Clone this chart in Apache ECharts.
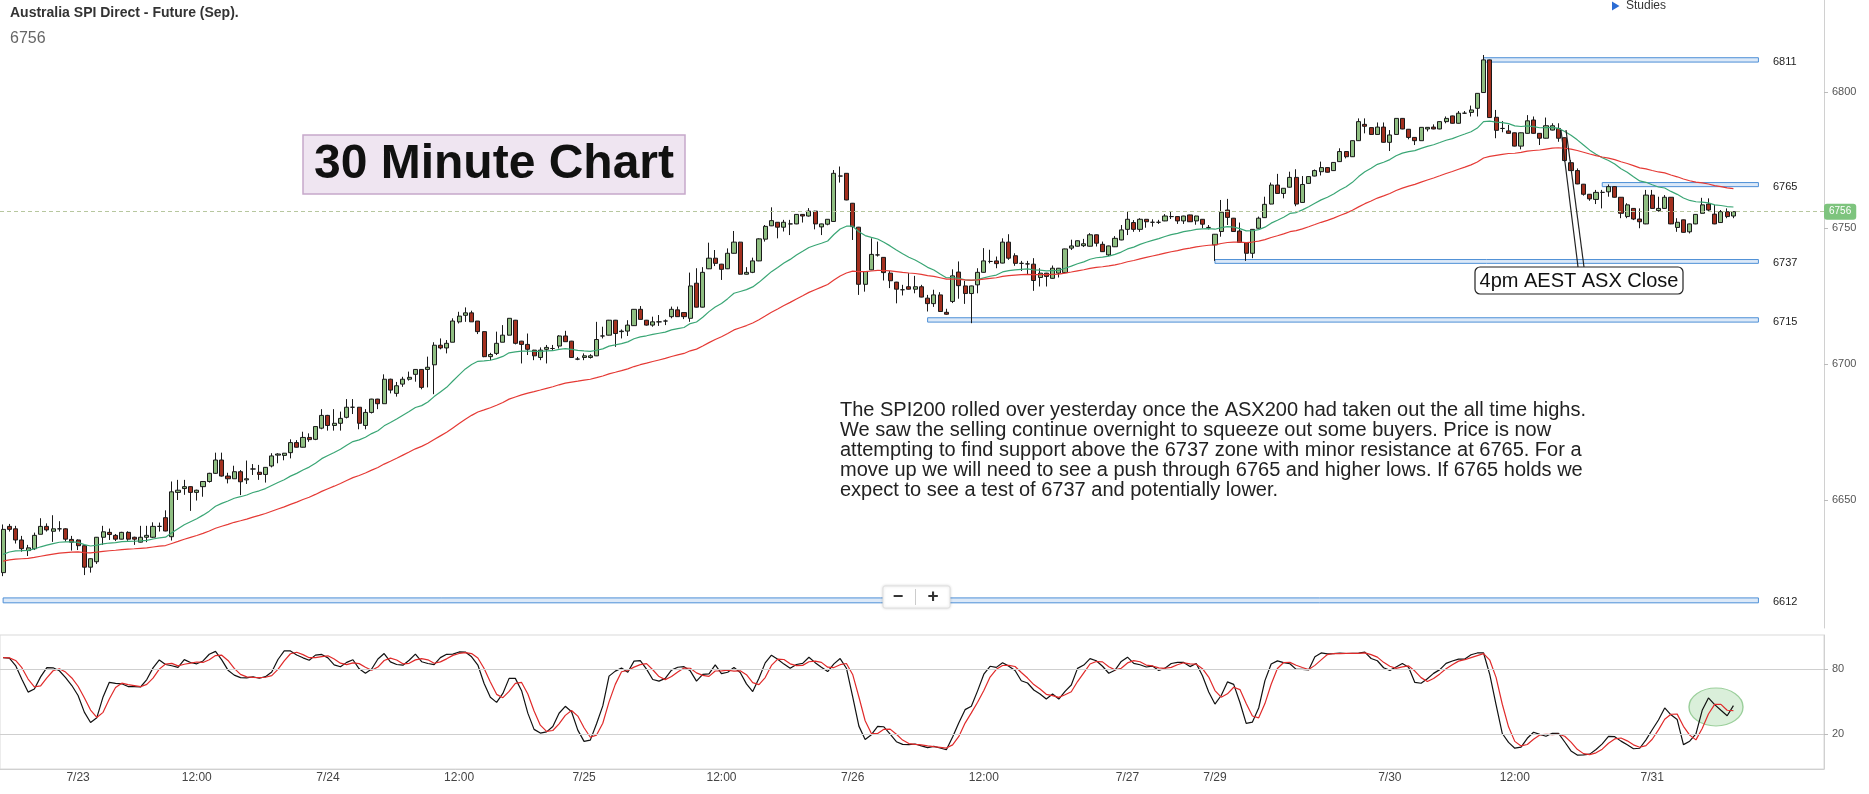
<!DOCTYPE html>
<html><head><meta charset="utf-8">
<script src="https://cdn.jsdelivr.net/npm/echarts@6/dist/echarts.min.js"></script>
<style>html,body{margin:0;padding:0;background:#fff}#c{width:1869px;height:794px}</style>
</head><body><div id="c"></div>
<script>
const openP = [
6623.3,6640.3,6639.4,6635.3,6631.4,6632.1,6637.4,6640.3,6638.5,6639.4,
6639.4,6635.5,6635.3,6633.2,6625.3,6627.3,6636.3,6638.1,6637.0,6635.6,
6638.1,6636.3,6634.5,6636.3,6636.3,6640.3,6643.5,6636.5,6652.8,6654.2,
6654.9,6652.8,6654.9,6656.8,6659.8,6664.7,6658.8,6657.8,6660.4,6657.4,
6661.4,6660.2,6659.4,6662.5,6666.5,6666.4,6667.4,6671.1,6669.4,6673.0,
6672.3,6676.4,6681.1,6677.4,6678.2,6680.4,6684.1,6684.1,6677.4,6682.2,
6687.1,6685.4,6694.4,6689.2,6692.6,6694.4,6696.2,6698.0,6698.0,6699.7,
6706.9,6705.9,6708.0,6715.5,6717.9,6718.8,6715.8,6711.9,6702.7,6703.9,
6708.0,6710.6,6716.1,6708.4,6707.2,6705.1,6702.4,6705.4,6705.7,6706.6,
6710.3,6708.4,6701.8,6702.4,6702.4,6703.0,6710.3,6710.6,6716.1,6711.9,
6712.1,6714.1,6720.1,6716.1,6714.3,6715.5,6715.8,6717.4,6719.9,6718.9,
6716.8,6729.7,6720.9,6735.0,6738.9,6736.7,6735.0,6740.7,6744.8,6733.0,
6733.7,6737.9,6745.9,6750.8,6752.1,6750.3,6751.5,6751.5,6755.0,6754.4,
6756.2,6750.4,6751.4,6752.4,6769.1,6770.1,6759.1,6750.3,6729.3,6734.6,
6740.1,6739.2,6733.4,6730.1,6727.3,6728.4,6727.5,6728.4,6724.2,6722.2,
6725.4,6719.0,6723.0,6733.8,6728.7,6725.9,6729.1,6733.7,6737.7,6737.9,
6737.1,6744.8,6739.8,6737.0,6736.8,6736.7,6731.8,6733.4,6731.5,6733.4,
6733.6,6742.6,6743.3,6743.5,6743.3,6747.5,6744.0,6740.1,6743.1,6745.6,
6749.5,6752.0,6749.5,6753.2,6752.1,6752.1,6752.6,6754.2,6754.2,6752.6,
6754.8,6752.6,6753.2,6750.2,6743.8,6748.7,6756.6,6753.6,6748.9,6744.6,
6740.7,6749.9,6753.8,6758.8,6765.8,6762.7,6765.0,6768.6,6759.4,6766.4,
6769.1,6770.7,6772.2,6771.1,6774.4,6778.1,6776.2,6782.1,6788.1,6786.9,
6784.4,6787.1,6781.5,6784.4,6790.3,6786.3,6783.3,6782.1,6786.4,6787.1,
6786.4,6789.1,6791.2,6788.5,6792.2,6792.5,6794.0,6799.8,6811.8,6790.7,
6786.6,6785.7,6785.0,6780.1,6784.8,6789.7,6784.8,6783.0,6786.0,6786.6,
6783.2,6774.0,6771.1,6766.1,6762.4,6760.5,6763.1,6763.3,6765.2,6761.3,
6754.2,6757.2,6753.3,6751.5,6762.1,6756.4,6757.2,6761.3,6750.2,6753.0,
6748.6,6751.5,6755.4,6758.8,6755.1,6752.0,6756.0,6754.4];
const closeP = [
6639.2,6639.2,6635.3,6632.1,6632.4,6637.0,6640.3,6639.0,6639.4,6639.4,
6635.6,6634.5,6633.2,6625.3,6628.4,6636.3,6638.3,6637.3,6635.6,6638.1,
6635.6,6635.6,6636.3,6637.0,6640.3,6640.3,6638.6,6653.0,6653.6,6654.9,
6652.8,6653.6,6656.8,6659.8,6664.7,6658.8,6657.8,6660.4,6656.7,6657.8,
6661.4,6659.4,6662.0,6666.2,6666.9,6667.2,6671.1,6669.4,6673.0,6672.2,
6677.0,6681.1,6677.4,6678.2,6680.0,6684.1,6684.1,6678.2,6682.2,6687.1,
6685.4,6694.4,6690.4,6692.0,6694.4,6695.1,6698.0,6691.4,6698.8,6706.9,
6705.9,6707.6,6715.8,6717.6,6718.8,6715.5,6711.9,6702.7,6703.5,6707.6,
6710.6,6716.8,6707.6,6707.2,6705.4,6703.0,6705.1,6706.1,6705.7,6710.3,
6708.2,6702.4,6701.8,6703.0,6703.0,6709.0,6710.3,6716.1,6711.2,6712.1,
6714.3,6720.1,6716.4,6714.3,6715.5,6715.5,6715.8,6720.1,6717.4,6717.4,
6728.7,6720.9,6733.7,6738.9,6737.0,6734.8,6740.7,6744.8,6733.0,6733.7,
6737.9,6746.0,6750.6,6752.7,6750.3,6752.1,6751.5,6755.0,6754.4,6756.2,
6751.5,6751.5,6753.2,6770.1,6769.1,6760.3,6750.5,6729.3,6734.0,6740.3,
6740.1,6733.6,6730.6,6727.5,6727.3,6727.5,6728.4,6724.6,6722.2,6725.4,
6719.3,6718.3,6732.4,6728.8,6725.9,6728.7,6733.7,6737.9,6737.7,6736.9,
6744.8,6738.9,6737.0,6737.0,6736.8,6730.7,6733.4,6732.2,6735.2,6735.2,
6742.3,6743.4,6745.3,6744.2,6747.5,6744.4,6741.3,6743.4,6746.2,6749.3,
6753.2,6749.5,6753.2,6752.3,6752.1,6752.1,6754.4,6754.2,6752.6,6754.4,
6752.3,6754.4,6751.4,6750.2,6747.7,6755.8,6753.9,6748.7,6744.7,6740.7,
6749.5,6753.6,6758.7,6765.8,6762.7,6764.6,6768.6,6758.8,6766.0,6768.9,
6771.1,6772.2,6770.5,6774.1,6778.1,6776.2,6782.1,6789.1,6787.4,6784.4,
6787.1,6781.5,6784.2,6790.3,6786.4,6783.3,6782.1,6787.0,6787.0,6786.4,
6789.1,6790.3,6788.5,6792.2,6792.2,6793.4,6799.5,6811.8,6790.6,6785.9,
6786.6,6784.8,6780.1,6785.0,6789.4,6784.8,6783.0,6787.6,6787.6,6783.0,
6774.8,6771.1,6766.2,6762.4,6760.7,6763.1,6763.1,6765.2,6761.3,6755.4,
6758.5,6753.3,6752.3,6762.1,6757.2,6757.2,6761.3,6751.5,6752.1,6748.4,
6751.5,6755.0,6758.5,6756.6,6751.5,6756.0,6754.2,6756.0];
const lowP = [
6622.0,6638.4,6634.0,6631.0,6629.4,6631.6,6637.4,6638.4,6634.6,6638.4,
6634.7,6631.4,6631.6,6622.4,6623.3,6626.5,6633.5,6635.3,6634.9,6635.5,
6635.0,6633.5,6634.4,6634.5,6636.0,6638.4,6638.5,6635.1,6650.0,6651.9,
6646.0,6649.8,6651.2,6656.4,6659.6,6658.6,6656.1,6657.8,6651.8,6655.9,
6659.2,6657.4,6656.4,6662.0,6663.5,6664.6,6665.3,6669.3,6669.3,6671.4,
6672.0,6676.0,6675.5,6675.5,6675.5,6680.0,6681.6,6676.0,6676.0,6681.8,
6683.4,6685.3,6689.2,6688.0,6691.6,6693.9,6693.5,6690.7,6691.4,6688.9,
6705.4,6703.9,6708.0,6714.9,6715.5,6715.5,6711.0,6702.5,6701.4,6703.3,
6708.0,6710.5,6707.2,6700.2,6703.3,6701.4,6701.4,6700.2,6704.9,6705.7,
6708.2,6702.3,6701.4,6701.4,6702.0,6702.9,6709.4,6710.5,6706.3,6709.4,
6710.3,6714.0,6716.4,6714.1,6713.7,6714.0,6714.3,6716.8,6717.3,6716.5,
6715.5,6720.8,6720.8,6734.9,6736.0,6730.9,6734.9,6740.6,6732.9,6732.9,
6733.4,6737.8,6745.0,6750.7,6746.2,6748.7,6747.4,6751.4,6752.0,6754.2,
6749.5,6747.4,6751.0,6752.3,6766.7,6760.2,6745.6,6725.4,6726.6,6734.5,
6739.5,6730.7,6727.9,6722.3,6725.2,6727.4,6726.0,6724.5,6719.3,6721.0,
6719.2,6718.1,6722.4,6724.0,6722.1,6715.0,6726.0,6733.6,6737.0,6735.2,
6737.0,6738.3,6736.1,6734.2,6732.8,6726.9,6728.5,6728.5,6731.4,6731.8,
6733.5,6741.9,6743.2,6743.0,6743.2,6743.2,6741.2,6739.7,6743.0,6745.5,
6747.4,6748.6,6748.6,6750.1,6750.5,6751.5,6752.5,6753.3,6751.5,6751.5,
6752.2,6751.2,6749.9,6749.5,6737.9,6746.8,6751.1,6748.6,6744.6,6737.9,
6738.9,6749.8,6753.7,6758.7,6762.6,6760.9,6764.9,6758.0,6759.3,6766.3,
6769.0,6769.3,6770.4,6771.0,6774.3,6775.6,6776.1,6782.0,6784.8,6784.2,
6784.3,6781.4,6778.3,6784.3,6786.3,6782.6,6780.5,6782.0,6785.5,6786.3,
6786.3,6788.5,6788.4,6788.4,6792.0,6791.0,6791.0,6799.7,6790.5,6783.0,
6785.2,6784.7,6780.0,6778.9,6784.7,6784.7,6780.5,6782.9,6785.9,6781.7,
6774.4,6771.0,6766.1,6761.9,6760.0,6758.8,6757.2,6761.5,6761.2,6753.6,
6753.6,6752.9,6749.9,6751.4,6757.1,6756.0,6757.1,6751.4,6748.6,6748.3,
6748.0,6751.4,6755.3,6756.2,6751.4,6751.9,6753.6,6753.6];
const highP = [
6641.0,6641.2,6640.5,6636.8,6633.5,6638.0,6643.3,6641.4,6644.4,6642.2,
6639.6,6636.8,6635.5,6633.4,6628.6,6636.4,6640.5,6639.5,6637.5,6638.3,
6638.5,6636.5,6640.5,6640.5,6641.8,6641.7,6646.2,6656.8,6657.4,6657.4,
6655.0,6653.8,6656.9,6660.0,6667.4,6667.4,6660.0,6662.6,6661.0,6664.5,
6663.2,6662.9,6662.1,6667.2,6667.2,6667.3,6672.3,6672.0,6675.1,6674.5,
6677.0,6683.4,6681.3,6683.4,6682.5,6687.1,6687.1,6684.2,6683.4,6687.2,
6687.2,6696.2,6694.6,6693.4,6695.3,6697.2,6698.1,6698.1,6702.7,6708.0,
6709.4,6708.8,6716.8,6719.2,6720.8,6719.6,6715.8,6712.0,6704.1,6711.9,
6714.3,6716.9,6716.2,6708.5,6711.2,6705.2,6706.1,6707.0,6707.0,6710.6,
6712.2,6708.5,6702.6,6703.9,6703.6,6715.5,6713.7,6716.2,6716.2,6712.7,
6716.1,6720.2,6721.3,6716.2,6717.4,6718.0,6716.4,6721.1,6721.1,6719.0,
6733.6,6735.2,6735.6,6744.6,6741.9,6736.8,6742.5,6748.9,6744.9,6735.6,
6739.1,6746.2,6751.1,6757.6,6752.2,6753.0,6753.0,6755.1,6755.1,6757.3,
6756.3,6751.6,6753.3,6771.3,6772.6,6770.2,6759.2,6750.4,6734.1,6746.2,
6745.0,6739.3,6734.2,6730.2,6729.1,6733.4,6732.4,6729.1,6725.4,6727.3,
6726.4,6720.3,6734.8,6737.7,6730.6,6728.8,6735.2,6742.6,6742.0,6739.5,
6746.2,6747.7,6740.7,6737.9,6737.9,6738.9,6735.2,6733.5,6736.2,6735.3,
6742.4,6745.7,6745.4,6746.0,6748.1,6747.6,6745.0,6743.5,6747.0,6751.1,
6756.0,6752.9,6753.6,6753.3,6753.2,6753.0,6755.1,6756.0,6754.3,6754.5,
6754.9,6754.5,6753.3,6751.1,6747.8,6760.3,6760.7,6753.7,6752.0,6744.7,
6749.6,6754.2,6761.5,6766.7,6769.9,6764.7,6770.7,6771.6,6769.1,6769.0,
6771.5,6774.4,6772.3,6774.2,6779.3,6778.2,6782.2,6790.3,6790.3,6787.0,
6788.8,6788.8,6786.0,6790.4,6790.4,6786.4,6783.4,6787.1,6787.1,6788.1,
6789.2,6791.0,6791.3,6793.0,6793.0,6795.0,6799.6,6813.6,6811.9,6793.4,
6789.3,6787.9,6785.1,6785.1,6791.5,6791.0,6784.9,6790.6,6788.5,6788.5,
6783.3,6775.0,6771.9,6766.2,6762.5,6764.0,6764.0,6766.0,6765.3,6761.4,
6759.1,6757.3,6757.2,6764.0,6764.0,6761.5,6762.1,6761.4,6753.6,6753.1,
6751.6,6755.1,6761.1,6760.9,6758.5,6756.6,6757.2,6756.1];

// x-axis tick labels (category index of the bar they sit under)
const tickIdx  = [12, 31, 52, 73, 93, 115, 136, 157, 180, 194, 222, 242, 264];
const tickText = ['7/23','12:00','7/24','12:00','7/25','12:00','7/26','12:00','7/27','7/29','7/30','12:00','7/31'];
const priceTicks = [6650, 6700, 6750, 6800];
const stochTicks = [20, 80];

// horizontal support / resistance zones
const levelNames = ['6811', '6765', '6737', '6715', '6612'];
const levelLow   = [6811, 6765.2, 6737, 6715.4, 6612.2];
const levelHigh  = [6812.6, 6766.7, 6738.4, 6717, 6614];
const levelFrom  = [237, 256, 194, 148, 0];
const levelTo    = [281, 281, 281, 281, 281];

// EMA starting values read at the first visible bar
const emaFastSeed = 6630.0, emaSlowSeed = 6627.5;

const noteLines = [
 'The SPI200 rolled over yesterday once the ASX200 had taken out the all time highs.',
 'We saw the selling continue overnight to squeeze out some buyers. Price is now',
 'attempting to find support above the 6737 zone with minor resistance at 6765. For a',
 'move up we will need to see a push through 6765 and higher lows. If 6765 holds we',
 'expect to see a test of 6737 and potentially lower.'
];

const N_SLOTS = 292;
const cats = Array.from({length: N_SLOTS}, (_, i) => String(i));
const tickMap = {};
tickIdx.forEach((ix, k) => { tickMap[ix] = tickText[k]; });
const candles = openP.map((o, i) => [o, closeP[i], lowP[i], highP[i]]);
const lastPrice = closeP[closeP.length - 1];

function ema(vals, n, seed) {
  const a = 2 / (n + 1); let e = seed; const out = [];
  vals.forEach((v, i) => { if (i > 0) e = e + a * (v - e); out.push(+e.toFixed(2)); });
  return out;
}
function stoch(n, k, d) {
  const fk = [];
  for (let i = 0; i < closeP.length; i++) {
    let hh = -Infinity, ll = Infinity;
    for (let j = Math.max(0, i - n + 1); j <= i; j++) { hh = Math.max(hh, highP[j]); ll = Math.min(ll, lowP[j]); }
    fk.push(hh > ll ? (closeP[i] - ll) / (hh - ll) * 100 : 50);
  }
  const sma = (arr, p) => arr.map((_, i) => { const s = arr.slice(Math.max(0, i - p + 1), i + 1); return s.reduce((a, b) => a + b, 0) / s.length; });
  const K = sma(fk, k); const D = sma(K, d);
  return [K.map(v => +v.toFixed(2)), D.map(v => +v.toFixed(2))];
}
const emaFast = ema(closeP, 20, emaFastSeed);
const emaSlow = ema(closeP, 50, emaSlowSeed);
const [stK, stD] = stoch(14, 3, 3);

const FONT = 'Arial, "Liberation Sans", sans-serif';
const areaData = levelNames.map((nm, i) => [
  {name: nm, xAxis: levelFrom[i], yAxis: levelLow[i]},
  {xAxis: levelTo[i], yAxis: levelHigh[i]}
]);

const graphics = [
  {type: 'text', x: 10, y: 13, style: {text: 'Australia SPI Direct - Future (Sep).', font: 'bold 14px ' + FONT, fill: '#333', textVerticalAlign: 'middle'}},
  {type: 'text', x: 10, y: 39, style: {text: String(lastPrice), font: '16px ' + FONT, fill: '#666', textVerticalAlign: 'middle'}},
  {type: 'polygon', shape: {points: [[1612, 1.5], [1612, 10.5], [1619.5, 6]]}, style: {fill: '#2b6cd4'}},
  {type: 'text', x: 1626, y: 6, style: {text: 'Studies', font: '12px ' + FONT, fill: '#333', textVerticalAlign: 'middle'}},
  {type: 'rect', shape: {x: 303, y: 135, width: 382, height: 59}, style: {fill: '#efe5f1', stroke: '#c6a8ca', lineWidth: 1.5}},
  {type: 'text', x: 494, y: 165, style: {text: '30 Minute Chart', font: 'bold 48px ' + FONT, fill: '#111', textAlign: 'center', textVerticalAlign: 'middle'}},
  {type: 'text', x: 840, y: 401, style: {text: noteLines.join('\n'), font: '20px ' + FONT, lineHeight: 19.8, fill: '#222'}},
  {type: 'line', shape: {x1: 1561, y1: 130, x2: 1578, y2: 267}, style: {stroke: '#222', lineWidth: 1.2}, z: 50},
  {type: 'line', shape: {x1: 1566, y1: 130, x2: 1584, y2: 267}, style: {stroke: '#222', lineWidth: 1.2}, z: 50},
  {type: 'rect', shape: {x: 1475, y: 267, width: 208, height: 27, r: 5}, style: {fill: '#fff', stroke: '#222', lineWidth: 1.2}, z: 50},
  {type: 'text', x: 1579, y: 281, style: {text: '4pm AEST ASX Close', font: '20px ' + FONT, fill: '#111', textAlign: 'center', textVerticalAlign: 'middle'}, z: 51},
  {type: 'rect', shape: {x: 883, y: 586, width: 67, height: 22, r: 2}, style: {fill: '#fff', stroke: '#e0e0e0', lineWidth: 1, shadowBlur: 3, shadowColor: 'rgba(0,0,0,0.15)'}, z: 50},
  {type: 'text', x: 898, y: 597, style: {text: '\u2212', font: 'bold 18px ' + FONT, fill: '#333', textAlign: 'center', textVerticalAlign: 'middle'}, z: 51},
  {type: 'line', shape: {x1: 915.5, y1: 589, x2: 915.5, y2: 605}, style: {stroke: '#ccc', lineWidth: 1}, z: 51},
  {type: 'text', x: 933, y: 597, style: {text: '+', font: 'bold 19px ' + FONT, fill: '#333', textAlign: 'center', textVerticalAlign: 'middle'}, z: 51},
  {type: 'circle', x: 1716, y: 707, scaleX: 1.42, shape: {cx: 0, cy: 0, r: 19}, style: {fill: 'rgba(150,210,150,0.35)', stroke: '#9bcf9b', lineWidth: 1}, z: 1}
];

const option = {
  animation: false,
  backgroundColor: '#fff',
  grid: [
    {left: -1, right: 45, top: 0, height: 628},
    {left: -1, right: 45, top: 635, height: 134, show: true, borderColor: '#d9d9d9', borderWidth: 1, backgroundColor: 'transparent'}
  ],
  xAxis: [
    {type: 'category', gridIndex: 0, data: cats, boundaryGap: true, axisLine: {show: false, onZero: false}, axisTick: {show: false}, axisLabel: {show: false}, splitLine: {show: false}},
    {type: 'category', gridIndex: 1, data: cats, boundaryGap: true, position: 'bottom', axisLine: {show: true, onZero: false, lineStyle: {color: '#d0d0d0'}}, axisTick: {show: false},
     axisLabel: {interval: 0, formatter: v => tickMap[+v] || '', color: '#444', fontSize: 12, margin: 3, fontFamily: FONT}, splitLine: {show: false}}
  ],
  yAxis: [
    {type: 'value', gridIndex: 0, position: 'right', min: 6602.94, max: 6833.82, scale: true,
     axisLine: {show: true, lineStyle: {color: '#d0d0d0'}},
     axisTick: {show: true, length: 4, lineStyle: {color: '#bbb'}, customValues: priceTicks},
     axisLabel: {customValues: priceTicks, formatter: v => String(v), color: '#555', fontSize: 11, margin: 8, fontFamily: FONT},
     splitLine: {show: false}},
    {type: 'value', gridIndex: 1, position: 'right', min: -12.3, max: 111.4,
     axisLine: {show: true, lineStyle: {color: '#d0d0d0'}},
     axisTick: {show: true, length: 4, lineStyle: {color: '#bbb'}, customValues: stochTicks},
     axisLabel: {customValues: stochTicks, formatter: v => String(v), color: '#555', fontSize: 11, margin: 8, fontFamily: FONT},
     splitLine: {show: false}}
  ],
  series: [
    {type: 'candlestick', name: 'SPI', xAxisIndex: 0, yAxisIndex: 0, data: candles, barWidth: 4.6, silent: true,
     itemStyle: {color: '#8fbe82', color0: '#a3301f', borderColor: '#1a1a1a', borderColor0: '#1a1a1a', borderWidth: 1},
     markArea: {silent: true, itemStyle: {color: '#dce9f8', borderColor: '#4d8fd6', borderWidth: 1},
       label: {show: true, position: 'right', distance: 14, formatter: '{b}', color: '#222', fontSize: 11, fontFamily: FONT, offset: [0, 2]},
       data: areaData},
     markLine: {silent: true, symbol: ['none', 'none'], lineStyle: {type: [4, 3], color: '#b7c79f', width: 1},
       label: {show: true, position: 'end', distance: 0, formatter: String(lastPrice), backgroundColor: '#7ec47e', color: '#fff', fontSize: 10, padding: [3, 5], borderRadius: 3, fontFamily: FONT},
       data: [{yAxis: lastPrice}]},
     z: 3},
    {type: 'line', name: 'EMA20', xAxisIndex: 0, yAxisIndex: 0, data: emaFast, showSymbol: false, silent: true, lineStyle: {color: '#3aa675', width: 1.2}, z: 4},
    {type: 'line', name: 'EMA50', xAxisIndex: 0, yAxisIndex: 0, data: emaSlow, showSymbol: false, silent: true, lineStyle: {color: '#e53a35', width: 1.2}, z: 4},
    {type: 'line', name: '%K', xAxisIndex: 1, yAxisIndex: 1, data: stK, showSymbol: false, silent: true, lineStyle: {color: '#111', width: 1.2}, z: 4,
     markLine: {silent: true, symbol: ['none', 'none'], label: {show: false}, lineStyle: {type: 'solid', color: '#cfcfcf', width: 1}, data: [{yAxis: 80}, {yAxis: 20}]}},
    {type: 'line', name: '%D', xAxisIndex: 1, yAxisIndex: 1, data: stD, showSymbol: false, silent: true, lineStyle: {color: '#e02a2a', width: 1.2}, z: 4}
  ],
  graphic: graphics
};
const chart = echarts.init(document.getElementById('c'));
chart.setOption(option);
</script>
</body></html>
